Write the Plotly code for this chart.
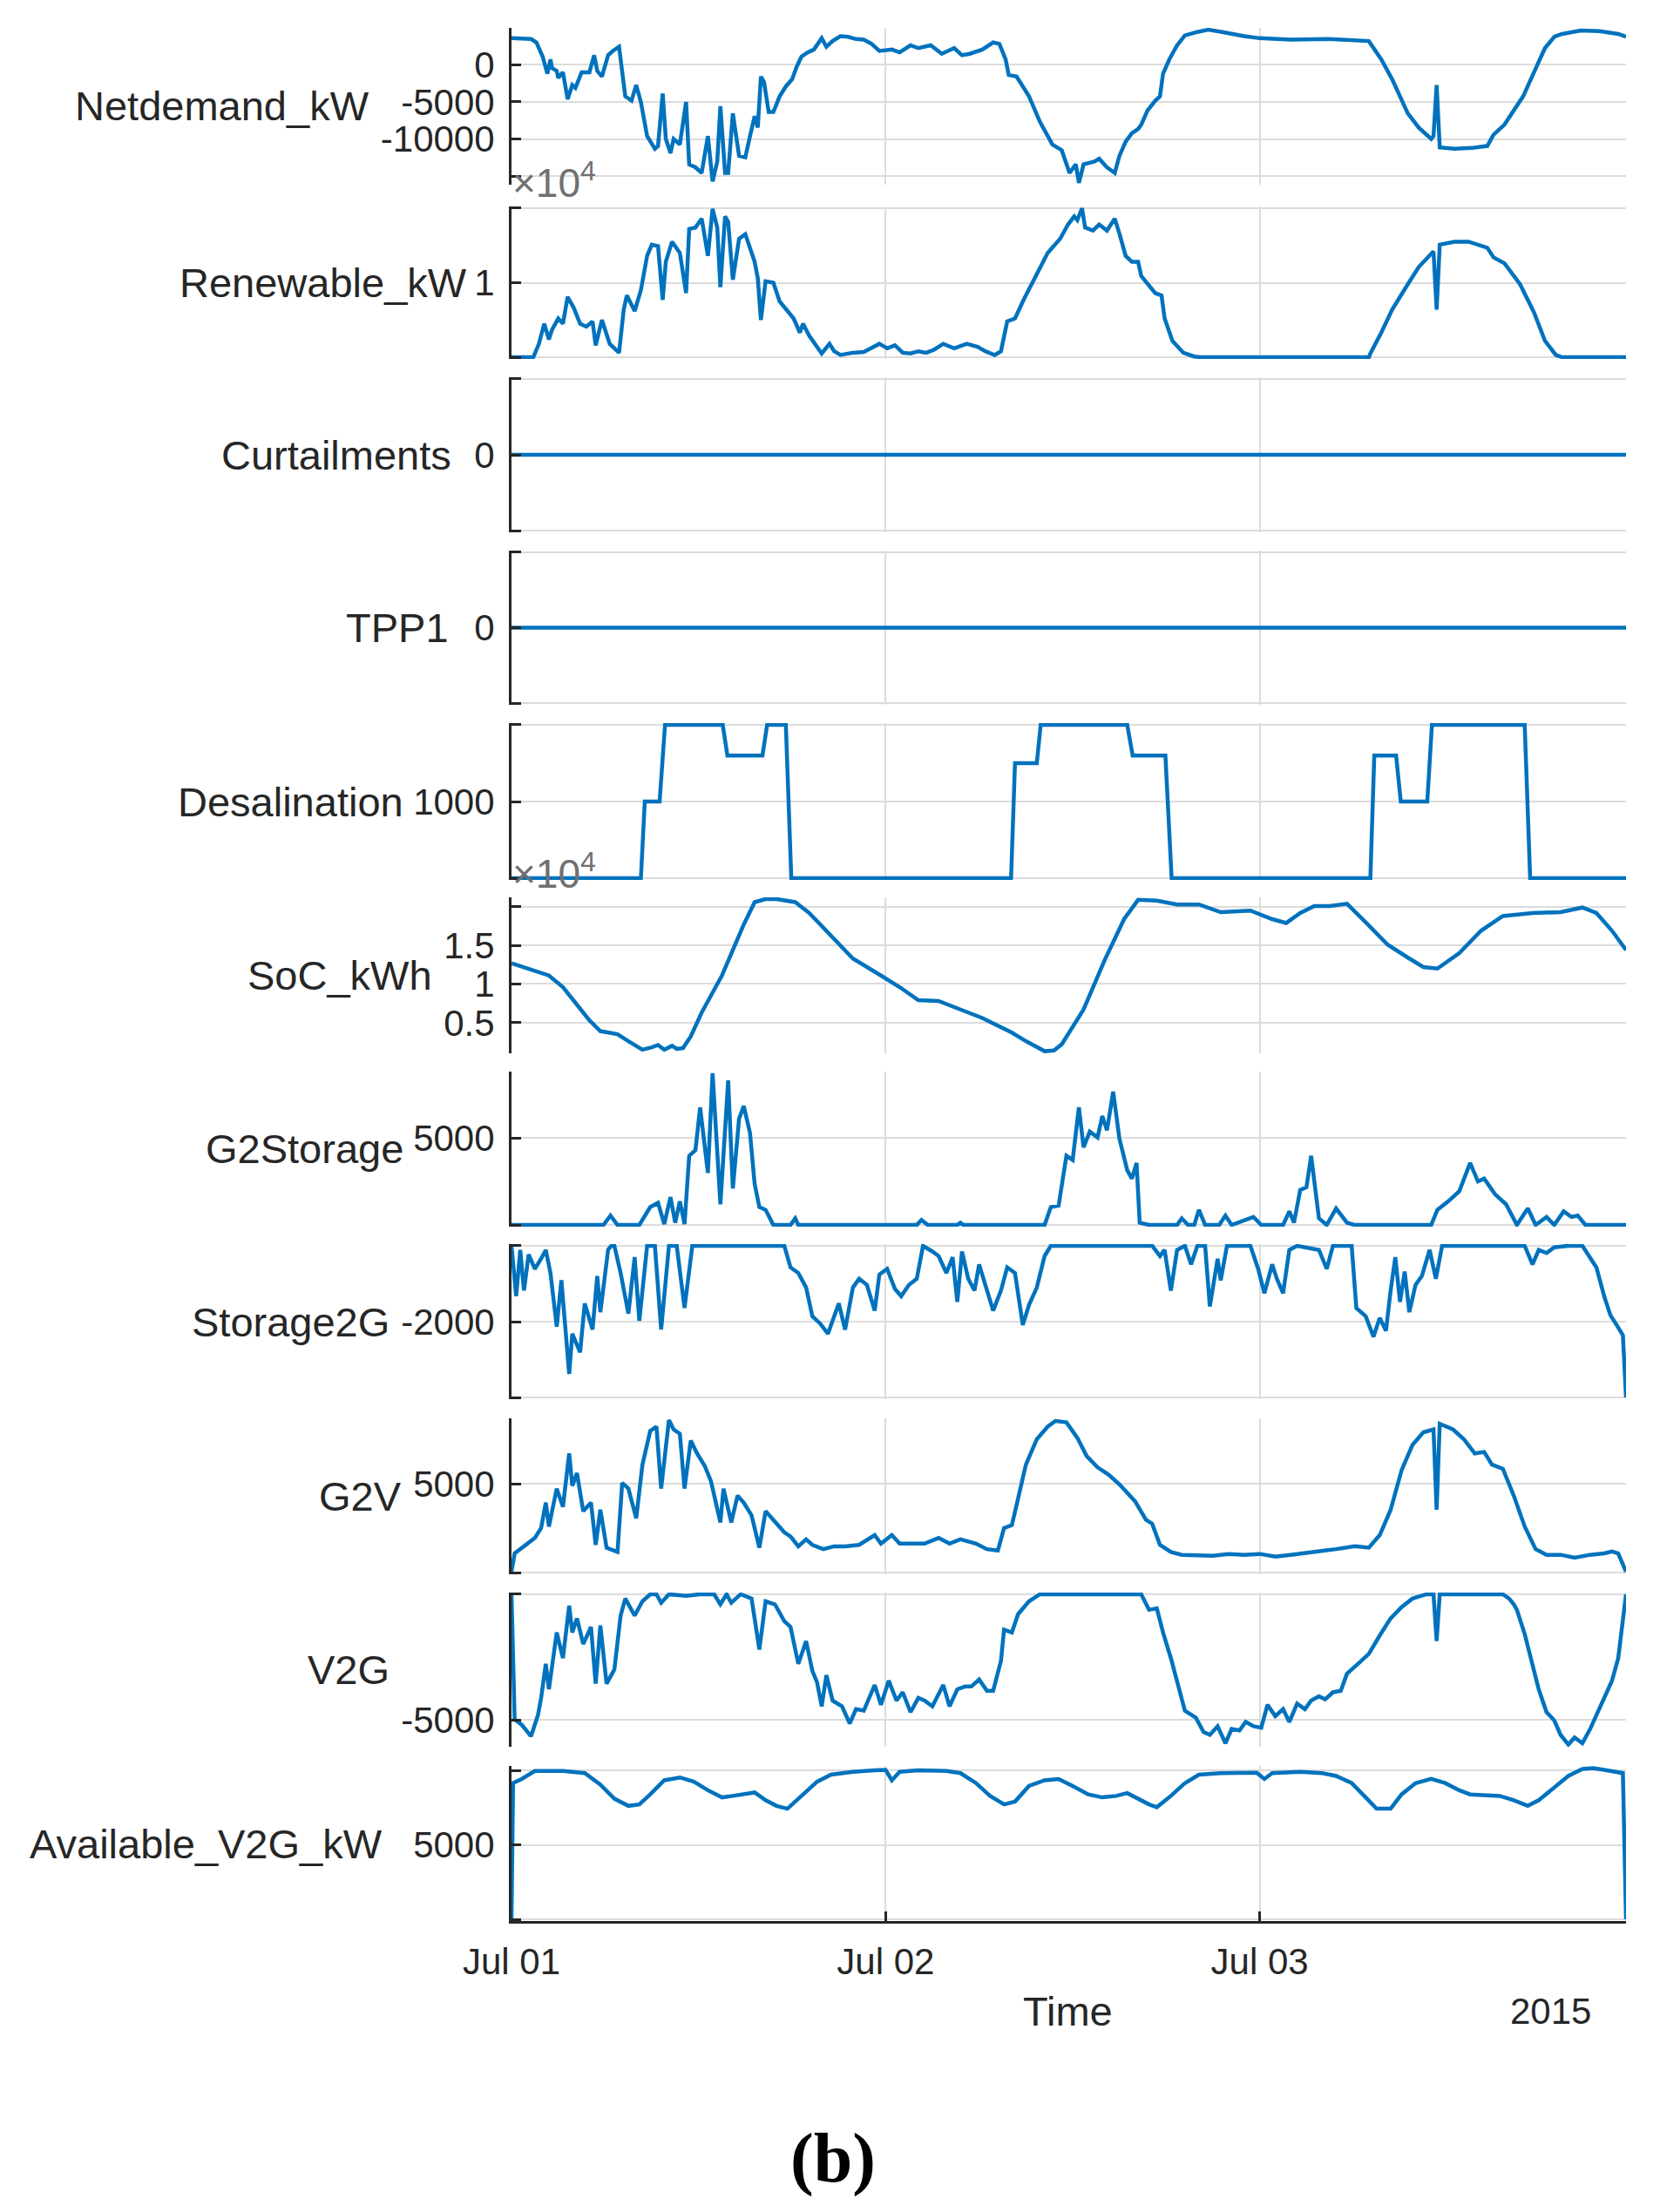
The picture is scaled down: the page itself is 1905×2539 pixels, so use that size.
import pandas as pd
import plotly.graph_objects as go

# ---------------- data (hours after 2015-07-01 00:00, value) ----------------
START = pd.Timestamp("2015-07-01 00:00")
END_HOURS = 71.5

NETDEMAND_KW = [
    (0, 3540), (1.26, 3430), (1.6, 2970), (2.0, 1070), (2.3, -1220), (2.5, 690), (2.6, -460),
    (2.9, -840), (3.0, -1790), (3.3, -1030), (3.6, -4650), (3.9, -2740), (4.1, -3120), (4.5, -1030),
    (5.0, -1030), (5.3, 1260), (5.5, -840), (5.8, -1600), (6.2, 1260), (6.5, 1830), (6.9, 2400),
    (7.0, 690), (7.3, -4260), (7.7, -4840), (8.0, -2740), (8.3, -5030), (8.7, -9600), (9.2, -11310),
    (9.4, -10930), (9.7, -3880), (9.9, -9980), (10.2, -11880), (10.4, -9980), (10.8, -10740),
    (11.2, -5030), (11.4, -13400), (11.8, -13790), (12.2, -14550), (12.6, -9600), (12.9, -15690),
    (13.2, -13020), (13.4, -5600), (13.7, -14550), (13.9, -14550), (14.2, -6550), (14.6, -12260),
    (15.0, -12450), (15.3, -9600), (15.6, -6930), (15.8, -8450), (16.0, -1600), (16.2, -2360),
    (16.5, -6360), (16.8, -6360), (17.2, -4260), (17.6, -2930), (18.0, -1980), (18.3, -270),
    (18.6, 1070), (19.0, 1640), (19.4, 2020), (19.9, 3540), (20.2, 2400), (20.6, 3160), (21.1, 3810),
    (21.6, 3730), (22.1, 3430), (22.6, 3350), (23.1, 2780), (23.6, 1830), (24.4, 2020), (24.9, 1640),
    (25.6, 2590), (26.1, 2210), (26.9, 2590), (27.6, 1450), (28.4, 2210), (28.9, 1260), (29.4, 1450),
    (30.2, 2020), (30.9, 2970), (31.3, 2780), (31.7, 690), (31.9, -1410), (32.4, -1600), (33.2, -4260),
    (33.9, -7690), (34.7, -10740), (35.3, -11500), (35.8, -14550), (36.2, -13400), (36.4, -15880),
    (36.7, -13400), (37.4, -13020), (37.7, -12640), (38.2, -13790), (38.7, -14550), (39.0, -12260),
    (39.4, -10360), (39.8, -9220), (40.2, -8640), (40.4, -8070), (40.8, -6170), (41.3, -4840),
    (41.6, -4260), (41.8, -1220), (42.2, 690), (42.7, 2590), (43.2, 3920), (44.0, 4380), (44.7, 4680),
    (45.6, 4380), (47.0, 3810), (48.0, 3540), (50.0, 3350), (52.4, 3430), (53.5, 3350), (55.0, 3160),
    (55.8, 690), (56.5, -1980), (57.5, -6550), (58.2, -8450), (59.0, -9980), (59.15, -9600),
    (59.35, -2740), (59.55, -11120), (60.5, -11310), (61.6, -11200), (62.6, -10930), (63.0, -9410),
    (63.7, -8070), (64.9, -4260), (65.8, -80), (66.3, 2210), (66.9, 3730), (67.4, 4110), (68.6, 4570),
    (69.8, 4490), (71.0, 4110), (71.5, 3730),
]

RENEWABLE_KW = [
    (0, 0), (1.4, 0), (1.76, 1800), (2.1, 4500), (2.4, 2400), (2.6, 3700), (3.0, 5200), (3.3, 4500),
    (3.6, 8100), (4.0, 6600), (4.4, 4500), (4.8, 4100), (5.2, 4800), (5.4, 1600), (5.8, 5000),
    (6.0, 3700), (6.3, 1800), (6.9, 600), (7.2, 6400), (7.4, 8300), (7.9, 6200), (8.3, 9000),
    (8.7, 13600), (9.0, 15100), (9.4, 14900), (9.7, 7700), (9.9, 12800), (10.3, 15500), (10.6, 14700),
    (10.8, 14000), (11.2, 8600), (11.4, 17200), (11.8, 17400), (12.2, 18600), (12.6, 13600),
    (12.9, 19900), (13.2, 17400), (13.4, 9400), (13.7, 18900), (13.9, 18200), (14.2, 10400),
    (14.6, 15900), (15.0, 16500), (15.3, 14700), (15.6, 12800), (15.8, 10600), (16.0, 5000),
    (16.3, 10200), (16.8, 10000), (17.2, 7500), (17.7, 6200), (18.1, 5200), (18.5, 3300), (18.7, 4500),
    (19.1, 2900), (19.5, 1800), (19.9, 500), (20.4, 1800), (20.7, 800), (21.1, 300), (21.9, 600),
    (22.6, 700), (23.6, 1800), (24.1, 1200), (24.6, 1600), (25.1, 600), (25.6, 500), (26.1, 800),
    (26.6, 600), (27.1, 1000), (27.7, 1800), (28.4, 1200), (29.2, 1800), (29.9, 1400), (30.4, 800),
    (31.0, 300), (31.4, 800), (31.8, 4800), (32.3, 5200), (32.9, 7900), (33.7, 11300), (34.4, 14000),
    (35.2, 15900), (35.7, 17800), (36.1, 18900), (36.3, 18400), (36.6, 20000), (36.8, 17400),
    (37.3, 17000), (37.7, 17800), (38.2, 17000), (38.7, 18600), (39.0, 16600), (39.4, 13600),
    (39.8, 12800), (40.2, 12800), (40.4, 10900), (40.8, 9800), (41.3, 8600), (41.7, 8300), (41.9, 5200),
    (42.4, 2200), (43.1, 600), (43.8, 100), (44.2, 0), (55.0, 0), (55.1, 500), (55.8, 3300),
    (56.5, 6400), (57.5, 9800), (58.2, 12100), (59.15, 14200), (59.35, 6400), (59.55, 15100),
    (60.5, 15500), (61.4, 15500), (62.6, 14700), (63.0, 13400), (63.7, 12600), (64.7, 9800),
    (65.6, 6000), (66.3, 2200), (67.0, 300), (67.4, 0), (71.5, 0),
]

CURTAILMENTS = [(0, 0), (71.5, 0)]
TPP1 = [(0, 0), (71.5, 0)]

DESALINATION = [
    (0, 0), (8.3, 0), (8.55, 1000), (9.5, 1000), (9.85, 2000), (13.55, 2000), (13.85, 1600),
    (16.1, 1600), (16.4, 2000), (17.6, 2000), (17.95, 0), (32.05, 0), (32.3, 1500), (33.7, 1500),
    (33.95, 2000), (39.5, 2000), (39.85, 1600), (41.95, 1600), (42.35, 0), (55.1, 0), (55.35, 1600),
    (56.75, 1600), (57.05, 1000), (58.75, 1000), (59.05, 2000), (65.0, 2000), (65.35, 0), (71.5, 0),
]

SOC_KWH = [
    (0, 12700), (1.0, 12000), (2.4, 11100), (3.3, 9600), (4.3, 7000), (5.0, 5300), (5.7, 3900),
    (6.8, 3500), (7.5, 2600), (8.4, 1500), (9.0, 1800), (9.4, 2100), (9.8, 1500), (10.3, 2000),
    (10.6, 1600), (11.0, 1700), (11.5, 3200), (12.2, 6300), (13.5, 11100), (14.9, 17700),
    (15.6, 20600), (16.3, 21000), (17.0, 21000), (18.2, 20600), (19.1, 19200), (20.5, 16200),
    (21.9, 13300), (23.7, 11100), (24.9, 9600), (26.1, 7900), (27.4, 7800), (28.8, 6700), (30.2, 5600),
    (32.1, 3700), (33.0, 2600), (34.2, 1300), (34.8, 1400), (35.3, 2200), (36.7, 6700), (38.1, 13300),
    (39.3, 18400), (40.2, 20900), (41.4, 20800), (42.7, 20300), (44.1, 20300), (45.5, 19300),
    (47.4, 19500), (48.8, 18400), (49.7, 17900), (50.6, 19200), (51.5, 20100), (52.5, 20100),
    (53.6, 20400), (54.8, 18000), (56.2, 15100), (57.6, 13300), (58.5, 12200), (59.4, 12000),
    (60.8, 14000), (62.2, 16900), (63.6, 18800), (65.5, 19200), (67.3, 19300), (68.7, 19900),
    (69.6, 19200), (70.6, 16900), (71.5, 14400),
]

G2STORAGE = [
    (0, 0), (5.9, 0), (6.35, 540), (6.8, 0), (8.2, 0), (8.9, 1030), (9.4, 1270), (9.8, 50), (10.2, 1600),
    (10.5, 130), (10.8, 1360), (11.1, 50), (11.4, 3970), (11.8, 4300), (12.1, 6750), (12.6, 2990),
    (12.9, 8710), (13.4, 1190), (13.9, 8300), (14.2, 2090), (14.6, 6100), (14.9, 6830), (15.3, 5280),
    (15.6, 2340), (15.9, 1030), (16.3, 870), (16.8, 0), (17.9, 0), (18.2, 380), (18.4, 0), (26.0, 0),
    (26.3, 290), (26.7, 0), (28.6, 0), (28.8, 130), (29.0, 0), (34.2, 0), (34.6, 1030), (35.1, 1110),
    (35.6, 3970), (36.0, 3730), (36.4, 6750), (36.7, 4460), (37.1, 5360), (37.6, 5030), (37.9, 6260),
    (38.2, 5440), (38.6, 7650), (39.0, 4950), (39.5, 3150), (39.8, 2660), (40.1, 3560), (40.3, 130),
    (40.9, 0), (42.7, 0), (43.0, 380), (43.4, 0), (43.8, 0), (44.1, 870), (44.5, 0), (45.4, 0),
    (45.8, 540), (46.2, 0), (46.9, 210), (47.6, 460), (48.1, 0), (49.5, 0), (49.9, 780), (50.2, 130),
    (50.6, 2010), (51.0, 2170), (51.3, 3970), (51.8, 380), (52.3, 0), (52.9, 950), (53.6, 130),
    (54.1, 0), (59.0, 0), (59.4, 870), (60.1, 1360), (60.8, 1930), (61.5, 3560), (62.0, 2500),
    (62.4, 2660), (63.1, 1760), (63.8, 1190), (64.5, 0), (65.2, 950), (65.7, 0), (66.4, 460), (66.9, 0),
    (67.5, 780), (68.0, 460), (68.4, 540), (68.9, 0), (71.5, 0),
]

STORAGE2G = [
    (0, 0), (0.3, -1330), (0.56, -110), (0.8, -1180), (1.1, -230), (1.5, -610), (1.9, -340),
    (2.2, -110), (2.5, -720), (2.9, -2130), (3.2, -910), (3.7, -3380), (3.9, -2320), (4.4, -2810),
    (4.7, -1520), (5.2, -2210), (5.5, -800), (5.7, -1750), (6.2, -100), (6.4, 0), (6.6, 0), (7.0, -720),
    (7.5, -1790), (7.9, -300), (8.2, -1980), (8.7, 0), (9.2, 0), (9.6, -2210), (10.1, 0), (10.6, 0),
    (11.1, -1640), (11.6, 0), (17.5, 0), (17.9, -570), (18.4, -720), (18.9, -1100), (19.3, -1860),
    (19.8, -2050), (20.3, -2320), (20.7, -1860), (21.0, -1520), (21.4, -2210), (21.9, -1100),
    (22.3, -870), (22.8, -1030), (23.3, -1710), (23.6, -760), (24.1, -610), (24.6, -1140),
    (25.0, -1330), (25.5, -1030), (26.0, -870), (26.4, 0), (27.0, -150), (27.4, -270), (27.9, -720),
    (28.3, -300), (28.6, -1480), (28.9, -150), (29.3, -870), (29.7, -1180), (30.0, -490), (30.5, -1180),
    (30.9, -1710), (31.4, -1180), (31.8, -570), (32.3, -720), (32.8, -2090), (33.2, -1560),
    (33.7, -1100), (34.2, -270), (34.6, 0), (41.1, 0), (41.6, -270), (41.9, -110), (42.3, -1180),
    (42.7, -110), (43.2, 0), (43.6, -490), (44.0, 0), (44.5, 0), (44.8, -1600), (45.3, -340),
    (45.5, -910), (45.9, 0), (47.4, 0), (47.9, -610), (48.3, -1250), (48.8, -490), (49.1, -870),
    (49.5, -1250), (49.9, -110), (50.4, 0), (51.8, -110), (52.3, -610), (52.7, 0), (53.9, 0),
    (54.2, -1640), (54.8, -1860), (55.3, -2400), (55.7, -1900), (56.1, -2240), (56.4, -1180),
    (56.7, -300), (57.0, -1480), (57.3, -680), (57.6, -1750), (58.0, -1030), (58.4, -800), (58.9, -110),
    (59.3, -870), (59.7, 0), (65.0, 0), (65.5, -490), (65.9, -110), (66.4, -190), (66.9, -40),
    (67.8, 0), (68.7, 0), (69.2, -340), (69.6, -570), (70.1, -1330), (70.5, -1830), (70.9, -2090),
    (71.3, -2360), (71.5, -4000),
]

G2V = [
    (0, 50), (0.2, 1080), (0.8, 1480), (1.5, 1950), (1.9, 2510), (2.2, 3940), (2.4, 2590), (2.9, 4730),
    (3.3, 3700), (3.7, 6710), (3.9, 4890), (4.2, 5600), (4.6, 3460), (5.1, 3940), (5.4, 1560),
    (5.7, 3540), (6.1, 1400), (6.8, 1160), (7.1, 5050), (7.5, 4730), (8.0, 3060), (8.4, 6080),
    (8.9, 7980), (9.3, 8220), (9.6, 4730), (10.1, 8590), (10.4, 8060), (10.8, 7820), (11.1, 4730),
    (11.5, 7430), (11.9, 6710), (12.4, 6000), (12.8, 5130), (13.4, 2820), (13.6, 4730), (14.1, 2820),
    (14.5, 4330), (14.9, 3940), (15.4, 3220), (15.9, 1400), (16.3, 3460), (16.8, 2980), (17.5, 2270),
    (17.9, 2030), (18.4, 1480), (18.9, 1870), (19.3, 1560), (20.0, 1320), (20.7, 1480), (21.4, 1480),
    (22.3, 1560), (23.3, 2110), (23.7, 1630), (24.4, 2110), (24.9, 1630), (25.6, 1630), (26.5, 1630),
    (27.4, 1950), (28.1, 1630), (28.8, 1870), (29.8, 1630), (30.5, 1320), (31.2, 1240), (31.6, 2510),
    (32.1, 2670), (32.5, 4170), (33.0, 6080), (33.7, 7510), (34.4, 8220), (34.9, 8540), (35.6, 8460),
    (36.3, 7590), (36.9, 6560), (37.6, 5920), (38.3, 5520), (39.0, 4970), (40.0, 4020), (40.7, 2980),
    (41.1, 2750), (41.6, 1560), (42.3, 1160), (43.0, 1000), (44.1, 1000), (45.0, 950), (46.0, 1050),
    (47.0, 1000), (48.0, 1050), (49.0, 900), (50.0, 1000), (51.0, 1100), (52.0, 1200), (52.9, 1320),
    (54.1, 1480), (55.0, 1400), (55.7, 2110), (56.4, 3540), (57.1, 5760), (57.8, 7190), (58.5, 7900),
    (59.15, 8060), (59.35, 3540), (59.55, 8380), (60.4, 8060), (61.1, 7510), (61.8, 6710), (62.4, 6790),
    (62.9, 6080), (63.6, 5840), (64.3, 4330), (65.0, 2590), (65.7, 1320), (66.4, 1000), (67.3, 1000),
    (68.2, 840), (69.2, 1000), (70.1, 1080), (70.6, 1190), (71.0, 1080), (71.5, 50),
]

V2G = [
    (0, 0), (0.2, -4970), (0.65, -5190), (1.25, -5650), (1.7, -4800), (1.9, -4120), (2.2, -2770),
    (2.4, -3780), (2.9, -1520), (3.3, -2540), (3.7, -450), (3.9, -1520), (4.2, -960), (4.6, -1980),
    (5.1, -1300), (5.4, -3560), (5.7, -1240), (6.1, -3560), (6.6, -2990), (7.0, -850), (7.3, -170),
    (7.9, -850), (8.4, -280), (8.9, 0), (9.3, 0), (9.6, -340), (10.1, 0), (11.2, -60), (12.1, 0),
    (13.0, 0), (13.4, -400), (13.8, 0), (14.1, -340), (14.7, 0), (15.4, -170), (15.9, -2200),
    (16.3, -280), (16.9, -400), (17.5, -1070), (17.9, -1300), (18.4, -2770), (18.9, -1860),
    (19.3, -3050), (19.6, -3500), (19.9, -4460), (20.2, -3220), (20.6, -4230), (21.2, -4460),
    (21.7, -5140), (22.1, -4570), (22.6, -4630), (23.3, -3610), (23.7, -4400), (24.2, -3440),
    (24.7, -4230), (25.1, -3900), (25.6, -4690), (26.1, -4120), (26.5, -4230), (27.0, -4460),
    (27.7, -3610), (28.1, -4460), (28.6, -3780), (29.1, -3670), (29.5, -3670), (30.0, -3390),
    (30.5, -3840), (30.9, -3840), (31.4, -2650), (31.6, -1410), (32.1, -1520), (32.5, -790),
    (33.2, -280), (33.9, 0), (40.4, 0), (40.9, -620), (41.4, -560), (41.8, -1520), (42.3, -2540),
    (42.7, -3500), (43.2, -4630), (43.9, -4910), (44.4, -5480), (44.8, -5590), (45.3, -5250),
    (45.8, -5930), (46.2, -5360), (46.7, -5420), (47.1, -5080), (47.6, -5250), (48.1, -5310),
    (48.5, -4400), (49.0, -4850), (49.5, -4570), (49.9, -5080), (50.4, -4350), (50.9, -4570),
    (51.3, -4230), (51.8, -4060), (52.2, -4180), (52.7, -3900), (53.2, -3840), (53.6, -3160),
    (54.3, -2770), (55.0, -2370), (55.7, -1640), (56.4, -960), (57.1, -510), (57.8, -170), (58.7, 0),
    (59.15, 0), (59.35, -1860), (59.55, 0), (63.6, 0), (64.0, -170), (64.3, -400), (64.5, -620),
    (65.0, -1580), (65.5, -2880), (65.9, -3780), (66.4, -4690), (66.9, -5020), (67.3, -5590),
    (67.8, -5980), (68.2, -5700), (68.7, -5930), (69.2, -5360), (69.6, -4800), (70.1, -4120),
    (70.6, -3440), (71.0, -2540), (71.5, 0),
]

AVAILABLE_V2G_KW = [
    (0, 0), (0.1, 9160), (0.65, 9440), (1.5, 9980), (3.3, 9980), (4.7, 9830), (5.7, 9060), (6.6, 8110),
    (7.5, 7630), (8.2, 7730), (8.9, 8400), (9.8, 9350), (10.8, 9540), (11.7, 9250), (12.6, 8680),
    (13.5, 8200), (14.2, 8300), (14.9, 8400), (15.6, 8530), (16.3, 8010), (17.0, 7630), (17.7, 7440),
    (18.6, 8300), (19.6, 9250), (20.5, 9730), (21.9, 9920), (23.3, 10020), (24.0, 10050), (24.4, 9350),
    (24.9, 9920), (26.1, 10020), (27.9, 9980), (28.8, 9830), (29.8, 9160), (30.7, 8300), (31.6, 7730),
    (32.3, 7920), (33.2, 8970), (34.2, 9350), (35.1, 9440), (36.0, 8970), (37.0, 8400), (37.9, 8200),
    (38.8, 8300), (39.5, 8490), (40.2, 8110), (40.9, 7730), (41.4, 7540), (42.3, 8300), (43.2, 9160),
    (44.1, 9730), (45.5, 9830), (47.8, 9860), (48.3, 9440), (48.8, 9830), (50.6, 9920), (52.0, 9830),
    (52.9, 9640), (53.9, 9160), (54.8, 8200), (55.5, 7440), (56.4, 7440), (57.1, 8400), (58.0, 9160),
    (59.0, 9440), (59.9, 9160), (60.8, 8680), (61.5, 8400), (62.4, 8340), (63.4, 8300), (64.3, 8010),
    (65.2, 7630), (65.9, 8010), (66.9, 8870), (67.8, 9640), (68.7, 10110), (69.4, 10170), (70.1, 10050),
    (71.0, 9920), (71.3, 9830), (71.5, 0),
]

LABELS = ["Netdemand_kW", "Renewable_kW", "Curtailments", "TPP1", "Desalination", "SoC_kWh",
          "G2Storage", "Storage2G", "G2V", "V2G", "Available_V2G_kW"]
SERIES = [NETDEMAND_KW, RENEWABLE_KW, CURTAILMENTS, TPP1, DESALINATION, SOC_KWH,
          G2STORAGE, STORAGE2G, G2V, V2G, AVAILABLE_V2G_KW]
Y_RANGES = [(-15900, 4700), (0, 20000), (-1, 1), (-1, 1), (0, 2000), (1250, 21000),
            (0, 8710), (-4000, 0), (0, 8590), (-6000, 0), (0, 10200)]
Y_TICKVALS = [[-15000, -10000, -5000, 0], [0, 10000, 20000], [-1, 0, 1], [-1, 0, 1],
              [0, 1000, 2000], [5000, 10000, 15000, 20000], [0, 5000], [-4000, -2000, 0],
              [0, 5000], [-5000, 0], [0, 5000, 10000]]
Y_TICKTEXT = [["", "-10000", "-5000", "0"], ["", "1", ""], ["", "0", ""], ["", "0", ""],
              ["", "1000", ""], ["0.5", "1", "1.5", ""], ["", "5000"], ["", "-2000", ""],
              ["", "5000"], ["-5000", ""], ["", "5000", ""]]
X_TICK_DAYS = ["2015-07-01", "2015-07-02", "2015-07-03"]
X_TICK_TEXT = ["Jul 01", "Jul 02", "Jul 03"]

# ---------------- layout geometry (pixels) ----------------
W, H = 1905, 2539
PL, PR = 587, 1866
PANEL_PX = [(32, 212), (237, 412), (433, 611), (632, 809), (830, 1010), (1030, 1209),
            (1230, 1408), (1428, 1606), (1628, 1807), (1828, 2005), (2027, 2205)]
LABEL_RIGHT_PX = [426, 538, 520, 517, 465, 498, 465, 449, 463, 449, 441]
EXP_PANELS = [1, 5]

BLUE = "#0072BD"
AXC = "#262626"
GRID = "#dcdcdc"
FONT = "Liberation Sans, Arial, Helvetica, sans-serif"


def px_x(x):
    return (x - PL) / (PR - PL)


def px_y(y):
    return 1 - y / H


fig = go.Figure()
n = len(SERIES)
x0 = START
x1 = START + pd.Timedelta(hours=END_HOURS)

for i, pts in enumerate(SERIES):
    k = "" if i == 0 else str(i + 1)
    xs = [START + pd.Timedelta(hours=t) for t, _ in pts]
    ys = [v for _, v in pts]
    fig.add_trace(go.Scatter(x=xs, y=ys, mode="lines", line=dict(color=BLUE, width=4.5),
                             xaxis="x" + k, yaxis="y" + k, showlegend=False, hoverinfo="skip"))
    top, bot = PANEL_PX[i]
    lo, hi = Y_RANGES[i]
    pad = (hi - lo) * 2.0 / (bot - top)
    last = (i == n - 1)
    fig.layout["yaxis" + k] = dict(
        domain=[px_y(bot), px_y(top)], anchor="x" + k, range=[lo - pad, hi + pad],
        tickmode="array", tickvals=Y_TICKVALS[i], ticktext=Y_TICKTEXT[i],
        showgrid=True, gridcolor=GRID, gridwidth=2, zeroline=False,
        showline=True, linecolor=AXC, linewidth=3, ticks="inside", ticklen=11,
        tickwidth=3, tickcolor=AXC, tickfont=dict(family=FONT, size=42, color=AXC),
        ticklabelstandoff=8, automargin=False, fixedrange=True,
    )
    fig.layout["xaxis" + k] = dict(
        domain=[0, 1], anchor="y" + k, range=[x0, x1], type="date",
        tickmode="array", tickvals=X_TICK_DAYS, ticktext=X_TICK_TEXT,
        showgrid=True, gridcolor=GRID, gridwidth=2, zeroline=False,
        showticklabels=last, showline=last, linecolor=AXC, linewidth=3,
        ticks="inside" if last else "", ticklen=11, tickwidth=3, tickcolor=AXC,
        tickfont=dict(family=FONT, size=42, color=AXC), ticklabelstandoff=8,
        automargin=False, fixedrange=True,
        **({} if i == 0 else {"matches": "x"}),
    )

annotations = []
for i, lab in enumerate(LABELS):
    top, bot = PANEL_PX[i]
    annotations.append(dict(text=lab, xref="paper", yref="paper", x=px_x(LABEL_RIGHT_PX[i]),
                            y=px_y((top + bot) / 2), xanchor="right", yanchor="middle",
                            showarrow=False, font=dict(family=FONT, size=47, color=AXC)))
for i in EXP_PANELS:
    top, _ = PANEL_PX[i]
    annotations.append(dict(text="\u00d710<sup>4</sup>", xref="paper", yref="paper",
                            x=px_x(586), y=px_y(top - 30), xanchor="left", yanchor="middle",
                            showarrow=False, font=dict(family=FONT, size=46, color="#707070")))
annotations.append(dict(text="Time", xref="paper", yref="paper", x=px_x(1225), y=px_y(2308),
                        xanchor="center", yanchor="middle", showarrow=False,
                        font=dict(family=FONT, size=47, color=AXC)))
annotations.append(dict(text="2015", xref="paper", yref="paper", x=px_x(1779), y=px_y(2308),
                        xanchor="center", yanchor="middle", showarrow=False,
                        font=dict(family=FONT, size=42, color=AXC)))
annotations.append(dict(text="<b>(b)</b>", xref="paper", yref="paper", x=px_x(956), y=px_y(2477),
                        xanchor="center", yanchor="middle", showarrow=False,
                        font=dict(family="Liberation Serif, Times New Roman, serif", size=80,
                                  color="#000000")))

fig.update_layout(
    width=W, height=H, margin=dict(l=PL, r=W - PR, t=0, b=0, autoexpand=False),
    paper_bgcolor="white", plot_bgcolor="white", annotations=annotations,
    font=dict(family=FONT, color=AXC), showlegend=False,
)

fig.write_html("out.html", config={"displayModeBar": False},
               post_script="document.body.style.margin='0';document.body.style.overflow='hidden';")
